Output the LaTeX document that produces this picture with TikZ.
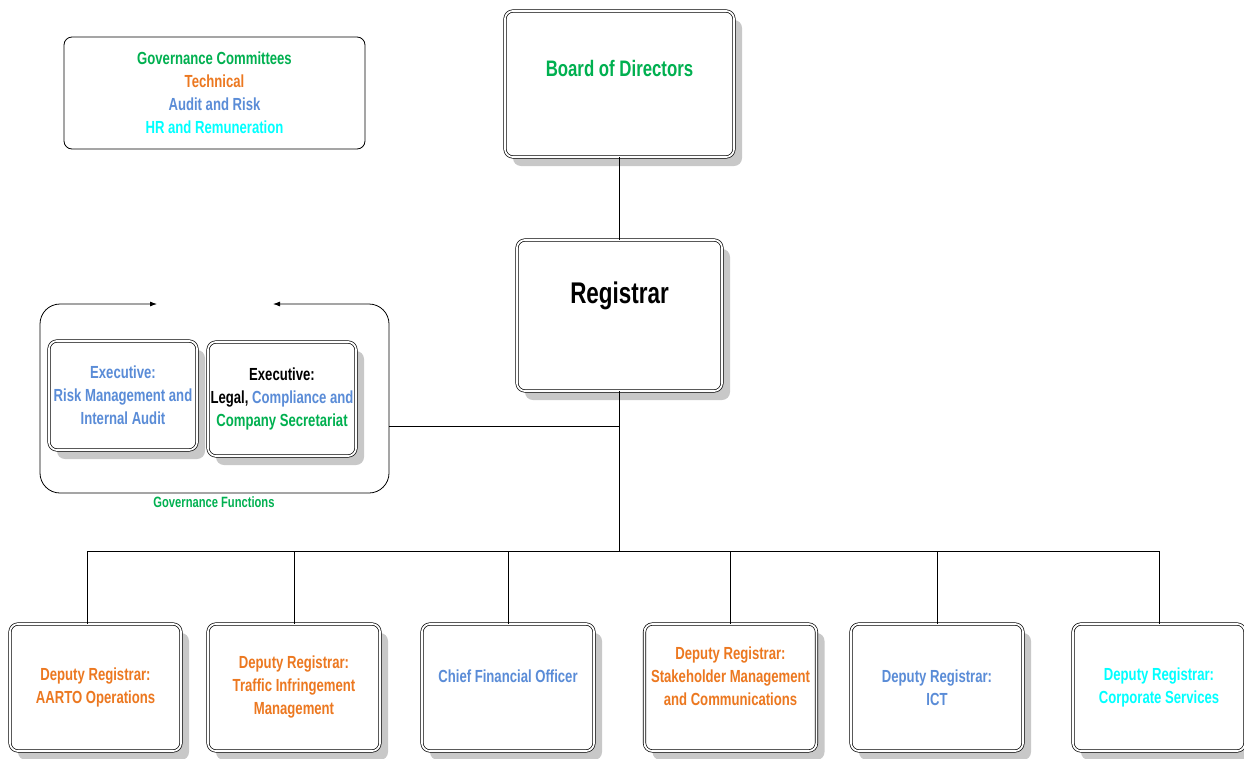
\documentclass[tikz,border=0pt]{standalone}
\usepackage{fontspec}
\setmainfont{Liberation Sans}[FakeStretch=0.75]
\usetikzlibrary{shadows,arrows.meta}
\definecolor{cgreen}{RGB}{0,176,80}
\definecolor{corange}{RGB}{236,120,32}
\definecolor{cblue}{RGB}{90,140,215}
\definecolor{ccyan}{RGB}{0,255,255}
\definecolor{shadowgray}{RGB}{200,200,200}
\tikzset{
  dbox/.style={draw=black, line width=0.7pt, double=white, double distance=1.8pt,
    rounded corners=8pt, fill=white, inner sep=0pt,
    drop shadow={shadow xshift=8pt, shadow yshift=-9pt, fill=shadowgray, opacity=1}},
  sbox/.style={draw=black, line width=0.8pt, rounded corners=8pt, fill=white, inner sep=0pt},
  txt/.style={font=\bfseries\fontsize{17.5}{23}\selectfont, align=center, inner sep=0pt},
  conn/.style={draw=black, line width=0.8pt},
}
\begin{document}
\begin{tikzpicture}[x=1pt,y=-1pt]
\useasboundingbox (0,0) rectangle (1244,758);

% Governance committees
\node[sbox, minimum width=301pt, minimum height=112pt] (gov) at (214.5,93) {};
\node[txt] (govt) at (214.5,92.5) {\color{cgreen}Governance Committees\\\color{corange}Technical\\\color{cblue}Audit and Risk\\\color{ccyan}HR and Remuneration};

% Board
\node[dbox, minimum width=229pt, minimum height=146pt] (board) at (619.5,84) {};
\node[txt, font=\bfseries\fontsize{22.4}{26}\selectfont, text=cgreen] (boardt) at (619.5,68.5) {Board of Directors};

% Registrar
\node[dbox, minimum width=205pt, minimum height=151pt] (reg) at (619.5,315.5) {};
\node[txt, font=\bfseries\fontsize{29.9}{34}\selectfont, text=black] (regt) at (619.5,296) {Registrar};

% Governance functions container
\coordinate (gfl) at (157,304);
\coordinate (gfr) at (273,304);
\coordinate (gfe) at (389,426);
\draw[line width=0.8pt, rounded corners=20pt, {Latex[length=7pt,width=5pt]}-{Latex[length=7pt,width=5pt]}]
  (gfr) -- (389,304) -- (389,493) -- (40,493) -- (40,304) -- (gfl);
\node[txt, font=\bfseries\fontsize{14.9}{17}\selectfont, text=cgreen] (gflab) at (214,502.5) {Governance Functions};

% Executives
\node[dbox, minimum width=148pt, minimum height=109pt] (ex1) at (123,395.5) {};
\node[txt, text=cblue] (ex1t) at (123,395.5) {Executive:\\Risk Management and\\Internal Audit};
\node[dbox, minimum width=148pt, minimum height=114pt] (ex2) at (282,399) {};
\node[txt] (ex2t) at (282,399) {Executive:\\Legal, {\color{cblue}Compliance and}\\\color{cgreen}Company Secretariat};

% Bottom boxes
\node[dbox, minimum width=171pt, minimum height=127pt] (b1) at (95.5,687.5) {};
\node[dbox, minimum width=172pt, minimum height=127pt] (b2) at (294,687.5) {};
\node[dbox, minimum width=172pt, minimum height=127pt] (b3) at (508,687.5) {};
\node[dbox, minimum width=172pt, minimum height=127pt] (b4) at (730.5,687.5) {};
\node[dbox, minimum width=172pt, minimum height=127pt] (b5) at (937,687.5) {};
\node[dbox, minimum width=172pt, minimum height=127pt] (b6) at (1159,687.5) {};
\node[txt, text=corange] (b1t) at (95.5,687.5) {Deputy Registrar:\\AARTO Operations};
\node[txt, text=corange] (b2t) at (294,687) {Deputy Registrar:\\Traffic Infringement\\Management};
\node[txt, text=cblue] (b3t) at (508,676) {Chief Financial Officer};
\node[txt, text=corange] (b4t) at (730.5,676) {Deputy Registrar:\\Stakeholder Management\\and Communications};
\node[txt, text=cblue] (b5t) at (937,687.5) {Deputy Registrar:\\ICT};
\node[txt, text=ccyan] (b6t) at (1159,687.5) {Deputy Registrar:\\Corporate Services};

% Connectors
\coordinate (bus) at (619.5,551);
\draw[conn] (board) -- (reg);
\draw[conn] (reg) -- (bus);
\draw[conn] (reg.south |- gfe) -- (gfe);
\draw[conn] ([xshift=-8.5pt]b1.north) |- (bus);
\draw[conn] (b2.north) |- (bus);
\draw[conn] (b3.north) |- (bus);
\draw[conn] (b4.north) |- (bus);
\draw[conn] (b5.north) |- (bus);
\draw[conn] (b6.north) |- (bus);
\end{tikzpicture}
\end{document}
